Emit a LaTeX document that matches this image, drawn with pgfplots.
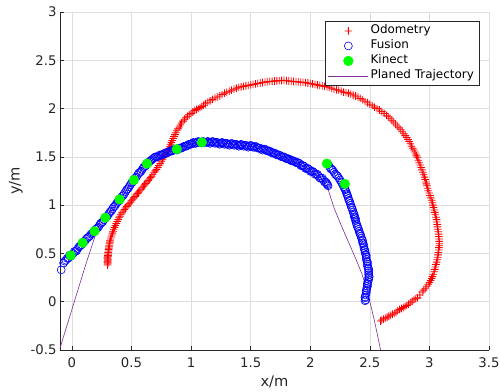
\documentclass[border=0pt]{standalone}
\usepackage{fontspec}
\setmainfont{DejaVu Sans}
\usepackage{pgfplots}
\pgfplotsset{compat=1.18}
\definecolor{axgray}{rgb}{0.15,0.15,0.15}
\definecolor{gridc}{rgb}{0.87,0.87,0.87}
\definecolor{traj}{rgb}{0.49,0.18,0.56}
\definecolor{odored}{rgb}{1,0,0}
\definecolor{fusblue}{rgb}{0,0,1}
\definecolor{kingreen}{rgb}{0,1,0}
\pgfdeclareplotmark{fplus}{%
  \pgfpathrectangle{\pgfpoint{-\pgfplotmarksize}{-0.4bp}}{\pgfpoint{2\pgfplotmarksize}{0.8bp}}%
  \pgfpathrectangle{\pgfpoint{-0.4bp}{-\pgfplotmarksize}}{\pgfpoint{0.8bp}{2\pgfplotmarksize}}%
  \pgfusepathqfill}
\begin{document}
\begin{tikzpicture}
\path[use as bounding box] (-60bp,-42bp) rectangle (440bp,350bp);
\begin{axis}[
 at={(0,0)}, anchor=south west,
 scale only axis, width=429bp, height=338bp,
 xmin=-0.1, xmax=3.5, ymin=-0.5, ymax=3,
 xtick={0,0.5,1,1.5,2,2.5,3,3.5},
 ytick={-0.5,0,0.5,1,1.5,2,2.5,3},
 axis x line*=bottom, axis y line*=left,
 axis line style={axgray, line width=0.6bp},
 tick style={axgray, line width=0.6bp},
 tick align=inside, major tick length=4.3bp,
 grid=major, major grid style={gridc, line width=0.6bp},
 tick label style={font=\fontsize{13.3}{16}\selectfont, text=axgray},
 xticklabel style={yshift=-4bp},
 /pgf/number format/assume math mode=true,
 xlabel={x/m}, ylabel={y/m},
 every axis x label/.style={at={(axis description cs:0.5,-0.095)}, anchor=center, font=\fontsize{14.7}{17}\selectfont, text=axgray},
 every axis y label/.style={at={(axis description cs:-0.103,0.5)}, anchor=center, rotate=90, font=\fontsize{14.7}{17}\selectfont, text=axgray},
 legend image code/.code={\draw[mark repeat=2,mark phase=2,#1] plot coordinates {(0bp,0bp) (20bp,0bp) (40bp,0bp)};},
 legend style={at={(0.977,0.973)}, anchor=north east, draw=axgray, line width=0.6bp,
   font=\fontsize{12}{14}\selectfont, fill=white,
   nodes={text height=9bp, text depth=3bp, inner ysep=1.5bp}},
 legend cell align=left,
]
% Planned trajectory (drawn beneath)
\addplot[traj, line width=0.6bp, mark=none, forget plot] coordinates {
(-0.10,-0.48) (-0.07,-0.36) (-0.04,-0.24) (0.00,-0.08) (0.04,0.08) (0.08,0.24) (0.12,0.40) (0.16,0.55) (0.20,0.70) (0.23,0.79)
(0.30,0.895) (0.40,1.055) (0.50,1.225) (0.60,1.385) (0.70,1.495) (0.80,1.545) (0.90,1.585) (1.00,1.635) (1.10,1.65) (1.20,1.65)
(1.30,1.64) (1.40,1.62) (1.50,1.61) (1.60,1.58) (1.70,1.535) (1.80,1.485) (1.90,1.435) (2.00,1.36) (2.06,1.31) (2.10,1.27) (2.14,1.20)
(2.20,0.97) (2.26,0.79) (2.32,0.62) (2.38,0.45) (2.43,0.30) (2.47,0.15) (2.50,0.00) (2.53,-0.15) (2.56,-0.32) (2.59,-0.50)
};
% Odometry
\addplot[only marks, mark=fplus, mark size=3.8bp, odored, mark options={solid, fill=odored, draw=none}] coordinates {
(0.298,0.38) (0.302,0.40) (0.299,0.42) (0.301,0.44) (0.297,0.46) (0.303,0.48) (0.305,0.51) (0.308,0.54) (0.312,0.57) (0.315,0.60)
(0.32,0.63) (0.33,0.67) (0.34,0.71) (0.35,0.75) (0.365,0.79) (0.38,0.83) (0.395,0.87) (0.41,0.90) (0.43,0.94) (0.45,0.97)
(0.47,1.00) (0.49,1.03) (0.51,1.06) (0.53,1.09) (0.55,1.12) (0.57,1.15) (0.59,1.18) (0.61,1.21) (0.63,1.24) (0.65,1.27)
(0.67,1.30) (0.69,1.34) (0.71,1.37) (0.73,1.41) (0.75,1.45) (0.77,1.49) (0.79,1.53) (0.805,1.57) (0.82,1.61) (0.835,1.65)
(0.85,1.69) (0.865,1.73) (0.88,1.77) (0.90,1.81) (0.92,1.85) (0.945,1.89) (0.97,1.92) (1.00,1.95) (1.03,1.98) (1.06,2.00)
(1.09,2.02) (1.12,2.05) (1.16,2.08) (1.20,2.11) (1.24,2.13) (1.28,2.16) (1.32,2.18) (1.36,2.20) (1.40,2.22) (1.44,2.23)
(1.48,2.24) (1.52,2.25) (1.56,2.26) (1.60,2.27) (1.64,2.278) (1.68,2.282) (1.72,2.287) (1.76,2.291) (1.80,2.288) (1.84,2.283)
(1.88,2.279) (1.92,2.273) (1.96,2.268) (2.00,2.26) (2.04,2.25) (2.08,2.24) (2.12,2.23) (2.16,2.22) (2.20,2.20) (2.24,2.19)
(2.28,2.17) (2.32,2.16) (2.36,2.14) (2.40,2.12) (2.44,2.09) (2.48,2.06) (2.52,2.03) (2.56,2.00) (2.60,1.97) (2.64,1.93)
(2.67,1.90) (2.70,1.86) (2.73,1.82) (2.76,1.78) (2.785,1.74) (2.81,1.70) (2.83,1.66) (2.85,1.61) (2.87,1.57) (2.885,1.53)
(2.90,1.49) (2.915,1.44) (2.93,1.39) (2.945,1.34) (2.96,1.29) (2.97,1.24) (2.98,1.20) (2.99,1.15) (3.005,1.10) (3.02,1.05)
(3.03,1.00) (3.04,0.95) (3.05,0.90) (3.06,0.85) (3.065,0.80) (3.07,0.75) (3.077,0.70) (3.081,0.65) (3.083,0.60) (3.079,0.56)
(3.075,0.51) (3.07,0.46) (3.06,0.41) (3.05,0.36) (3.04,0.31) (3.025,0.26) (3.01,0.22) (2.99,0.18) (2.965,0.14) (2.94,0.10)
(2.90,0.04) (2.87,0.02) (2.84,-0.01) (2.81,-0.04) (2.78,-0.06) (2.75,-0.08) (2.72,-0.11) (2.69,-0.13) (2.66,-0.15) (2.63,-0.17)
(2.60,-0.19) (2.59,-0.20)
(0.301,0.39) (0.298,0.41) (0.302,0.43) (0.299,0.45) (0.303,0.47) (0.304,0.495) (0.307,0.525) (0.31,0.555) (0.313,0.585) (0.318,0.615)
(0.325,0.65) (0.335,0.69) (0.345,0.73) (0.357,0.77) (0.372,0.81) (0.388,0.85) (0.402,0.885) (0.42,0.92) (0.44,0.955) (0.46,0.985)
(0.48,1.015) (0.50,1.045) (0.52,1.075) (0.54,1.105) (0.56,1.135) (0.58,1.165) (0.60,1.195) (0.62,1.225) (0.64,1.255) (0.66,1.285)
(0.68,1.32) (0.70,1.355) (0.72,1.39) (0.74,1.43) (0.76,1.47) (0.78,1.51) (0.797,1.55) (0.812,1.59) (0.827,1.63) (0.842,1.67)
(0.857,1.71) (0.872,1.75) (0.89,1.79) (0.91,1.83) (0.932,1.87) (0.957,1.905) (0.985,1.935) (1.015,1.965) (1.045,1.99) (1.075,2.01)
(1.105,2.035) (1.14,2.065) (1.18,2.095) (1.22,2.12) (1.26,2.145) (1.30,2.17) (1.34,2.19) (1.38,2.21) (1.42,2.225) (1.46,2.235)
(1.50,2.245) (1.54,2.255) (1.58,2.265) (1.62,2.274) (1.66,2.281) (1.70,2.285) (1.74,2.289) (1.78,2.293) (1.82,2.286) (1.86,2.28)
(1.90,2.276) (1.94,2.271) (1.98,2.265) (2.02,2.255) (2.06,2.245) (2.10,2.235) (2.14,2.225) (2.18,2.21) (2.22,2.195) (2.26,2.18)
(2.30,2.165) (2.34,2.15) (2.38,2.13) (2.42,2.105) (2.46,2.075) (2.50,2.045) (2.54,2.015) (2.58,1.985) (2.62,1.95) (2.655,1.915)
(2.685,1.88) (2.715,1.84) (2.745,1.80) (2.772,1.76) (2.797,1.72) (2.82,1.68) (2.84,1.635) (2.86,1.59) (2.877,1.55) (2.892,1.51)
(2.907,1.465) (2.922,1.415) (2.937,1.365) (2.952,1.315) (2.965,1.265) (2.975,1.22) (2.985,1.175) (2.997,1.125) (3.012,1.075) (3.025,1.025)
(3.035,0.975) (3.045,0.925) (3.055,0.875) (3.062,0.825) (3.068,0.775) (3.074,0.725) (3.079,0.675) (3.082,0.625) (3.084,0.58) (3.078,0.535)
(3.072,0.485) (3.065,0.435) (3.055,0.385) (3.045,0.335) (3.032,0.285) (3.018,0.24) (3.00,0.20) (2.978,0.16) (2.952,0.12) (2.92,0.07)
(2.885,0.03) (2.855,0.005) (2.825,-0.025) (2.795,-0.05) (2.765,-0.07) (2.735,-0.095) (2.705,-0.12) (2.675,-0.14) (2.645,-0.16) (2.615,-0.18)
};
\addlegendentry{Odometry}
% Fusion
\addplot[only marks, mark=o, mark size=4bp, fusblue, mark options={solid, fusblue, line width=0.6bp}] coordinates {
(-0.09,0.33) (-0.07,0.40) (-0.05,0.43) (-0.03,0.45) (-0.01,0.47) (0.01,0.50) (0.03,0.52) (0.05,0.55) (0.07,0.58) (0.09,0.61)
(0.11,0.63) (0.13,0.66) (0.15,0.68) (0.17,0.71) (0.19,0.73) (0.21,0.76) (0.23,0.79) (0.25,0.82) (0.27,0.85) (0.29,0.88)
(0.31,0.91) (0.33,0.94) (0.35,0.98) (0.37,1.01) (0.39,1.04) (0.41,1.07) (0.43,1.10) (0.45,1.14) (0.47,1.17) (0.49,1.21)
(0.51,1.24) (0.53,1.28) (0.55,1.31) (0.57,1.34) (0.59,1.37) (0.61,1.40) (0.63,1.43) (0.65,1.45) (0.67,1.47) (0.69,1.49)
(0.71,1.50) (0.73,1.51) (0.75,1.52) (0.77,1.53) (0.79,1.54) (0.81,1.55) (0.83,1.56) (0.85,1.57) (0.87,1.58) (0.89,1.58)
(0.91,1.59) (0.93,1.60) (0.95,1.61) (0.97,1.62) (0.99,1.63) (1.01,1.64) (1.03,1.64) (1.05,1.65) (1.07,1.65) (1.09,1.65)
(1.11,1.65) (1.13,1.65) (1.15,1.65) (1.17,1.65) (1.19,1.65) (1.21,1.65) (1.23,1.64) (1.25,1.64) (1.27,1.64) (1.29,1.64)
(1.31,1.63) (1.33,1.63) (1.35,1.63) (1.37,1.63) (1.39,1.62) (1.41,1.62) (1.43,1.62) (1.45,1.62) (1.47,1.61) (1.49,1.61)
(1.51,1.61) (1.53,1.60) (1.55,1.60) (1.57,1.59) (1.59,1.58) (1.61,1.58) (1.63,1.57) (1.65,1.56) (1.67,1.55) (1.69,1.54)
(1.71,1.53) (1.73,1.52) (1.75,1.51) (1.77,1.50) (1.79,1.49) (1.81,1.48) (1.83,1.47) (1.85,1.46) (1.87,1.45) (1.89,1.44)
(1.91,1.43) (1.93,1.41) (1.95,1.40) (1.97,1.38) (1.99,1.37) (2.01,1.35) (2.03,1.34) (2.05,1.32) (2.07,1.30) (2.09,1.28)
(2.11,1.26) (2.13,1.24) (2.14,1.22) (2.15,1.20)
(-0.06,0.42) (-0.04,0.45) (-0.02,0.48) (0.00,0.49) (0.02,0.52) (0.04,0.53) (0.06,0.57) (0.08,0.59) (0.10,0.62) (0.12,0.65)
(0.14,0.67) (0.16,0.70) (0.18,0.72) (0.20,0.75) (0.22,0.77) (0.24,0.81) (0.26,0.83) (0.28,0.87) (0.30,0.89) (0.32,0.93)
(0.34,0.96) (0.36,0.99) (0.38,1.03) (0.40,1.05) (0.42,1.09) (0.44,1.12) (0.46,1.16) (0.48,1.19) (0.50,1.23) (0.52,1.26)
(0.54,1.29) (0.56,1.33) (0.58,1.35) (0.60,1.39) (0.62,1.41) (0.64,1.44) (0.66,1.46) (0.68,1.48) (0.70,1.50) (0.72,1.50)
(0.74,1.52) (0.76,1.52) (0.78,1.54) (0.80,1.54) (0.82,1.56) (0.84,1.56) (0.86,1.58) (0.88,1.57) (0.90,1.59) (0.92,1.59)
(0.94,1.61) (0.96,1.61) (0.98,1.63) (1.00,1.63) (1.02,1.65) (1.04,1.64) (1.06,1.66) (1.08,1.65) (1.10,1.66) (1.12,1.65)
(1.14,1.66) (1.16,1.64) (1.18,1.66) (1.20,1.64) (1.22,1.65) (1.24,1.63) (1.26,1.65) (1.28,1.63) (1.30,1.64) (1.32,1.62)
(1.34,1.64) (1.36,1.62) (1.38,1.63) (1.40,1.61) (1.42,1.63) (1.44,1.61) (1.46,1.62) (1.48,1.60) (1.50,1.62) (1.52,1.60)
(1.54,1.61) (1.56,1.59) (1.58,1.59) (1.60,1.57) (1.62,1.58) (1.64,1.56) (1.66,1.56) (1.68,1.54) (1.70,1.54) (1.72,1.52)
(1.74,1.52) (1.76,1.50) (1.78,1.50) (1.80,1.48) (1.82,1.48) (1.84,1.46) (1.86,1.46) (1.88,1.44) (1.90,1.44) (1.92,1.41)
(1.94,1.41) (1.96,1.38) (1.98,1.38) (2.00,1.35) (2.02,1.35) (2.04,1.32) (2.06,1.32) (2.08,1.28) (2.10,1.28) (2.12,1.24)
(2.135,1.23) (2.145,1.21)
(2.14,1.43) (2.16,1.40) (2.18,1.37) (2.20,1.34) (2.22,1.31) (2.24,1.28) (2.26,1.24) (2.275,1.21) (2.29,1.17) (2.30,1.14)
(2.31,1.11) (2.32,1.07) (2.33,1.04) (2.34,1.00) (2.35,0.97) (2.36,0.93) (2.37,0.90) (2.375,0.87) (2.38,0.84) (2.39,0.80)
(2.40,0.77) (2.41,0.73) (2.42,0.70) (2.43,0.66) (2.44,0.63) (2.445,0.60) (2.45,0.56) (2.46,0.53) (2.465,0.49) (2.47,0.46)
(2.475,0.42) (2.48,0.39) (2.485,0.35) (2.49,0.32) (2.49,0.28) (2.49,0.25) (2.485,0.21) (2.48,0.18) (2.475,0.14) (2.47,0.11)
(2.465,0.07) (2.46,0.04) (2.46,0.01)
(2.15,1.42) (2.17,1.38) (2.19,1.36) (2.21,1.32) (2.23,1.30) (2.25,1.26) (2.265,1.23) (2.28,1.19) (2.295,1.16) (2.305,1.12)
(2.315,1.09) (2.325,1.05) (2.335,1.02) (2.345,0.98) (2.355,0.95) (2.365,0.91) (2.37,0.88) (2.38,0.86) (2.385,0.82) (2.395,0.78)
(2.405,0.75) (2.415,0.71) (2.425,0.68) (2.435,0.64) (2.44,0.61) (2.45,0.58) (2.455,0.54) (2.46,0.51) (2.47,0.48) (2.47,0.44)
(2.48,0.41) (2.48,0.37) (2.49,0.34) (2.49,0.30) (2.495,0.26) (2.49,0.23) (2.48,0.19) (2.48,0.16) (2.47,0.12) (2.47,0.09)
(2.46,0.05) (2.465,0.02)
};
\addlegendentry{Fusion}
% Kinect
\addplot[only marks, mark=*, mark size=4.8bp, kingreen, mark options={solid, draw=kingreen, fill=kingreen}] coordinates {
(-0.01,0.48) (0.09,0.61) (0.19,0.73) (0.28,0.87) (0.40,1.06) (0.52,1.26) (0.63,1.43) (0.88,1.58) (1.09,1.65) (2.14,1.43) (2.29,1.22)
};
\addlegendentry{Kinect}
\addlegendimage{traj, line width=0.6bp, mark=none}
\addlegendentry{Planed Trajectory}
\end{axis}
\end{tikzpicture}
\end{document}
